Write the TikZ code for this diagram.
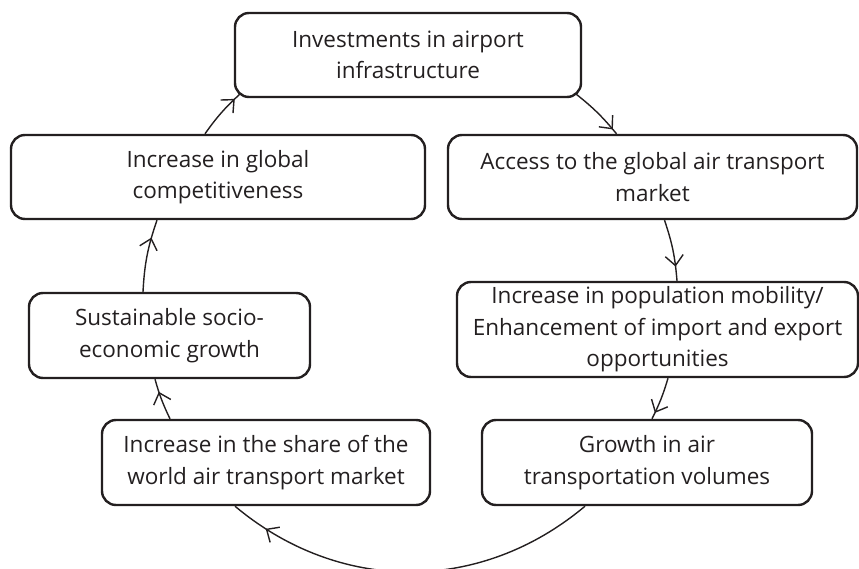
\documentclass[tikz,border=0pt]{standalone}
\usepackage{fontspec}
\setmainfont{Open Sans}
\usetikzlibrary{arrows.meta, decorations.markings}
\definecolor{ink}{HTML}{231F20}

\begin{document}
\begin{tikzpicture}[x=1pt, y=1pt, align=center, color=ink]

    % Styles
    \tikzstyle{box} = [rectangle, draw=ink, line width=2.4pt, rounded corners=14pt, inner sep=0pt, text centered, font=\fontsize{22.5}{31.5}\selectfont]
    \tikzstyle{arrow} = [line width=1.4pt, draw=ink, postaction={decorate}]
    \tikzset{tip at/.style={decoration={markings, mark=at position #1 with {\arrow{Straight Barb[length=10pt, width=18pt, line width=1.4pt]}}}}}

    \useasboundingbox (0,0) rectangle (859,-569);

    % Top
    \node[box, minimum width=346pt, minimum height=84pt] (airport_invest) at (408,-55) {Investments in airport\\infrastructure};

    % Second row
    \node[box, minimum width=414pt, minimum height=84pt] (global_comp) at (218,-177) {Increase in global\\competitiveness};
    \node[box, minimum width=409pt, minimum height=84pt] (market_access) at (652.5,-177) {Access to the global air transport\\market};

    % Third row
    \node[box, minimum width=281pt, minimum height=85pt] (socio_growth) at (169.5,-335.5) {Sustainable socio-\\economic growth};
    \node[box, minimum width=401pt, minimum height=95pt] (mobility) at (657.5,-329.5) {Increase in population mobility/\\Enhancement of import and export\\opportunities};

    % Bottom row
    \node[box, minimum width=328pt, minimum height=85pt] (market_share) at (266,-462.5) {Increase in the share of the\\world air transport market};
    \node[box, minimum width=330pt, minimum height=85pt] (traffic_growth) at (647,-462.5) {Growth in air\\transportation volumes};

    % Arrows
    \draw[arrow, tip at=0.87] ([xshift=-13pt]global_comp.north) to[bend left=6] ([xshift=6pt, yshift=4pt]airport_invest.south west);
    \draw[arrow, tip at=0.9] ([xshift=-6pt, yshift=4pt]airport_invest.south east) to[bend left=6] ([xshift=-36pt]market_access.north);
    \draw[arrow, tip at=0.77] ([xshift=12pt]market_access.south) to[bend left=7] ([xshift=19.5pt]mobility.north);
    \draw[arrow, tip at=0.85] ([xshift=10.5pt]mobility.south) to[bend left=5] ([xshift=5pt]traffic_growth.north);
    \draw[arrow, tip at=0.9] ([xshift=-62pt]traffic_growth.south) to[bend left=40] ([xshift=-31pt]market_share.south);
    \draw[arrow, tip at=0.69] ([xshift=-96pt]market_share.north) to[bend left=5] ([xshift=-14.5pt]socio_growth.south);
    \draw[arrow, tip at=0.75] ([xshift=-26.5pt]socio_growth.north) to[bend left=8] ([xshift=-61pt]global_comp.south);

\end{tikzpicture}
\end{document}
